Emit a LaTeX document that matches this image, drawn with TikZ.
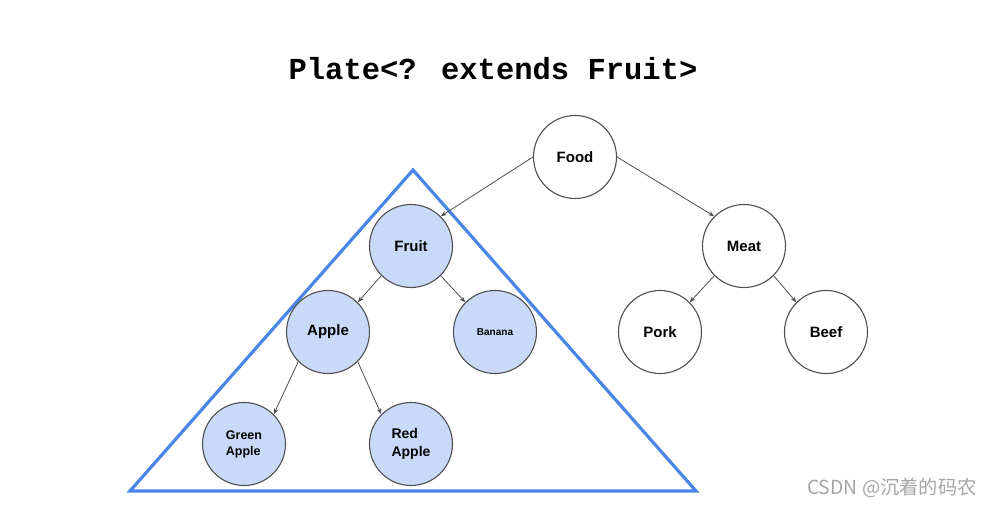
\documentclass[tikz,border=0pt]{standalone}
\usepackage{fontspec}
\setmainfont{Liberation Sans}
\newfontfamily\titlefont{Liberation Mono}
\newfontfamily\cjkfont{Noto Sans CJK SC}
\usetikzlibrary{arrows.meta}
\definecolor{nodefill}{HTML}{C9DAF8}
\definecolor{nodeline}{HTML}{4F4F4F}
\definecolor{triblue}{HTML}{4A86E8}
\definecolor{wmgray}{HTML}{A6A6A6}
\tikzset{
  tnode/.style={circle, draw=nodeline, line width=1.1pt, minimum size=83pt, inner sep=0pt, font=\bfseries\fontsize{15}{17}\selectfont, align=left},
  fnode/.style={tnode, fill=nodefill},
  conn/.style={draw=nodeline, line width=0.8pt, -{Stealth[length=6pt,width=4.5pt]}},
}
\begin{document}
\begin{tikzpicture}[x=1pt,y=-1pt]
\useasboundingbox (0,0) rectangle (993,505);
\fill[white] (0,0) rectangle (993,505);
\node[font=\titlefont\bfseries\fontsize{30.5}{34}\selectfont, anchor=base] (title) at (493,80) {Plate<? extends Fruit>};
\coordinate (tA) at (413,170);
\coordinate (tB) at (130,491);
\coordinate (tC) at (696,491);
\draw[triblue, line width=3.2pt, line join=miter] (tA) -- (tB) -- (tC) -- cycle;
\node[tnode] (food) at (575,157) {Food};
\node[tnode] (meat) at (744,246) {Meat};
\node[tnode] (pork) at (660,332) {Pork};
\node[tnode] (beef) at (826,332) {Beef};
\node[fnode] (fruit) at (411,246) {Fruit};
\node[fnode] (apple) at (328,332) {Apple};
\node[fnode, font=\bfseries\fontsize{10}{12}\selectfont] (banana) at (495,332) {Banana};
\node[fnode, font=\bfseries\fontsize{12.5}{16}\selectfont] (green) at (244,444) {Green\\Apple};
\node[fnode, font=\bfseries\fontsize{14}{18}\selectfont] (red) at (411,444) {Red\\Apple};
\draw[conn] (food.west) -- (fruit.north east);
\draw[conn] (food.east) -- (meat.north west);
\draw[conn] (meat.south west) -- (pork.north east);
\draw[conn] (meat.south east) -- (beef.north west);
\draw[conn] (fruit.south west) -- (apple.north east);
\draw[conn] (fruit.south east) -- (banana.north west);
\draw[conn] (apple.south west) -- (green.north east);
\draw[conn] (apple.south east) -- (red.north west);
\node[font=\cjkfont\fontsize{19.3}{21}\selectfont, text=wmgray, anchor=east, inner sep=0pt] (wm) at (977,488) {CSDN @沉着的码农};
\end{tikzpicture}
\end{document}
